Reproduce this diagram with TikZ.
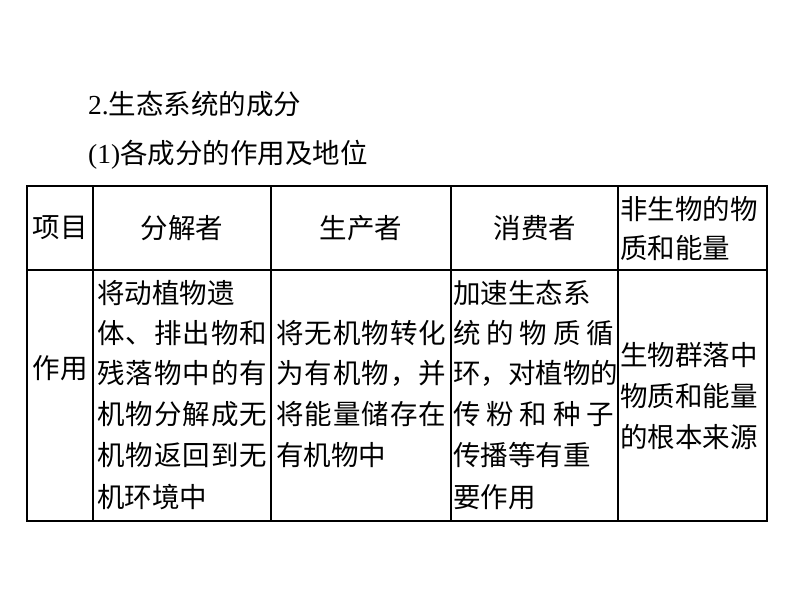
\documentclass[tikz,border=0pt]{standalone}
\usepackage{fontspec}
\setmainfont{Liberation Serif}
\newfontfamily\cjk{Noto Sans CJK SC}
\begin{document}
\begin{tikzpicture}[x=1pt,y=-1pt,
  txt/.style={inner sep=0pt,font=\cjk\fontsize{27.5}{27.5}\selectfont,anchor=west},
  ctxt/.style={inner sep=0pt,font=\cjk\fontsize{27.5}{27.5}\selectfont},
  grid/.style={line width=1.3pt}]
\useasboundingbox (0,0) rectangle (794,603);
\node[txt] (t1) at (88,104) {{\rmfamily 2.}生态系统的成分};
\node[txt] (t2) at (88,155) {{\rmfamily (1)}各成分的作用及地位};
\draw[grid] (27,186) rectangle (767,521);
\draw[grid] (27,270) -- (767,270);
\foreach \x in {93,271,451,618} \draw[grid] (\x,186) -- (\x,521);
\node[ctxt] (h1) at (60,228) {项目};
\node[ctxt] (h2) at (182,228) {分解者};
\node[ctxt] (h3) at (361,228) {生产者};
\node[ctxt] (h4) at (535,228) {消费者};
\node[txt] (h5a) at (620,209) {非生物的物};
\node[txt] (h5b) at (620,248) {质和能量};
\node[ctxt] (r1) at (60,368) {作用};
% column 2
\node[txt] (a1) at (97,293) {将动植物遗};
\node[txt] (a2) at (97,333) {\makebox[170pt][s]{体\hfill、\hfill 排\hfill 出\hfill 物\hfill 和}};
\node[txt] (a3) at (97,373) {\makebox[170pt][s]{残\hfill 落\hfill 物\hfill 中\hfill 的\hfill 有}};
\node[txt] (a4) at (97,414) {\makebox[170pt][s]{机\hfill 物\hfill 分\hfill 解\hfill 成\hfill 无}};
\node[txt] (a5) at (97,455) {\makebox[170pt][s]{机\hfill 物\hfill 返\hfill 回\hfill 到\hfill 无}};
\node[txt] (a6) at (97,497) {机环境中};
% column 3
\node[txt] (b1) at (276,333) {\makebox[170pt][s]{将\hfill 无\hfill 机\hfill 物\hfill 转\hfill 化}};
\node[txt] (b2) at (276,373) {\makebox[170pt][s]{为\hfill 有\hfill 机\hfill 物\hfill ，\hfill 并}};
\node[txt] (b3) at (276,414) {\makebox[170pt][s]{将\hfill 能\hfill 量\hfill 储\hfill 存\hfill 在}};
\node[txt] (b4) at (276,455) {有机物中};
% column 4
\node[txt] (c1) at (453,293) {加速生态系};
\node[txt] (c2) at (453,333) {\makebox[161pt][s]{统\hfill 的\hfill 物\hfill 质\hfill 循}};
\node[txt] (c3) at (453,373) {\makebox[161pt][s]{环\hfill ，\hfill 对\hfill 植\hfill 物\hfill 的}};
\node[txt] (c4) at (453,414) {\makebox[161pt][s]{传\hfill 粉\hfill 和\hfill 种\hfill 子}};
\node[txt] (c5) at (453,455) {传播等有重};
\node[txt] (c6) at (453,497) {要作用};
% column 5
\node[txt] (d1) at (620,355) {生物群落中};
\node[txt] (d2) at (620,396) {物质和能量};
\node[txt] (d3) at (620,437) {的根本来源};
\end{tikzpicture}
\end{document}
